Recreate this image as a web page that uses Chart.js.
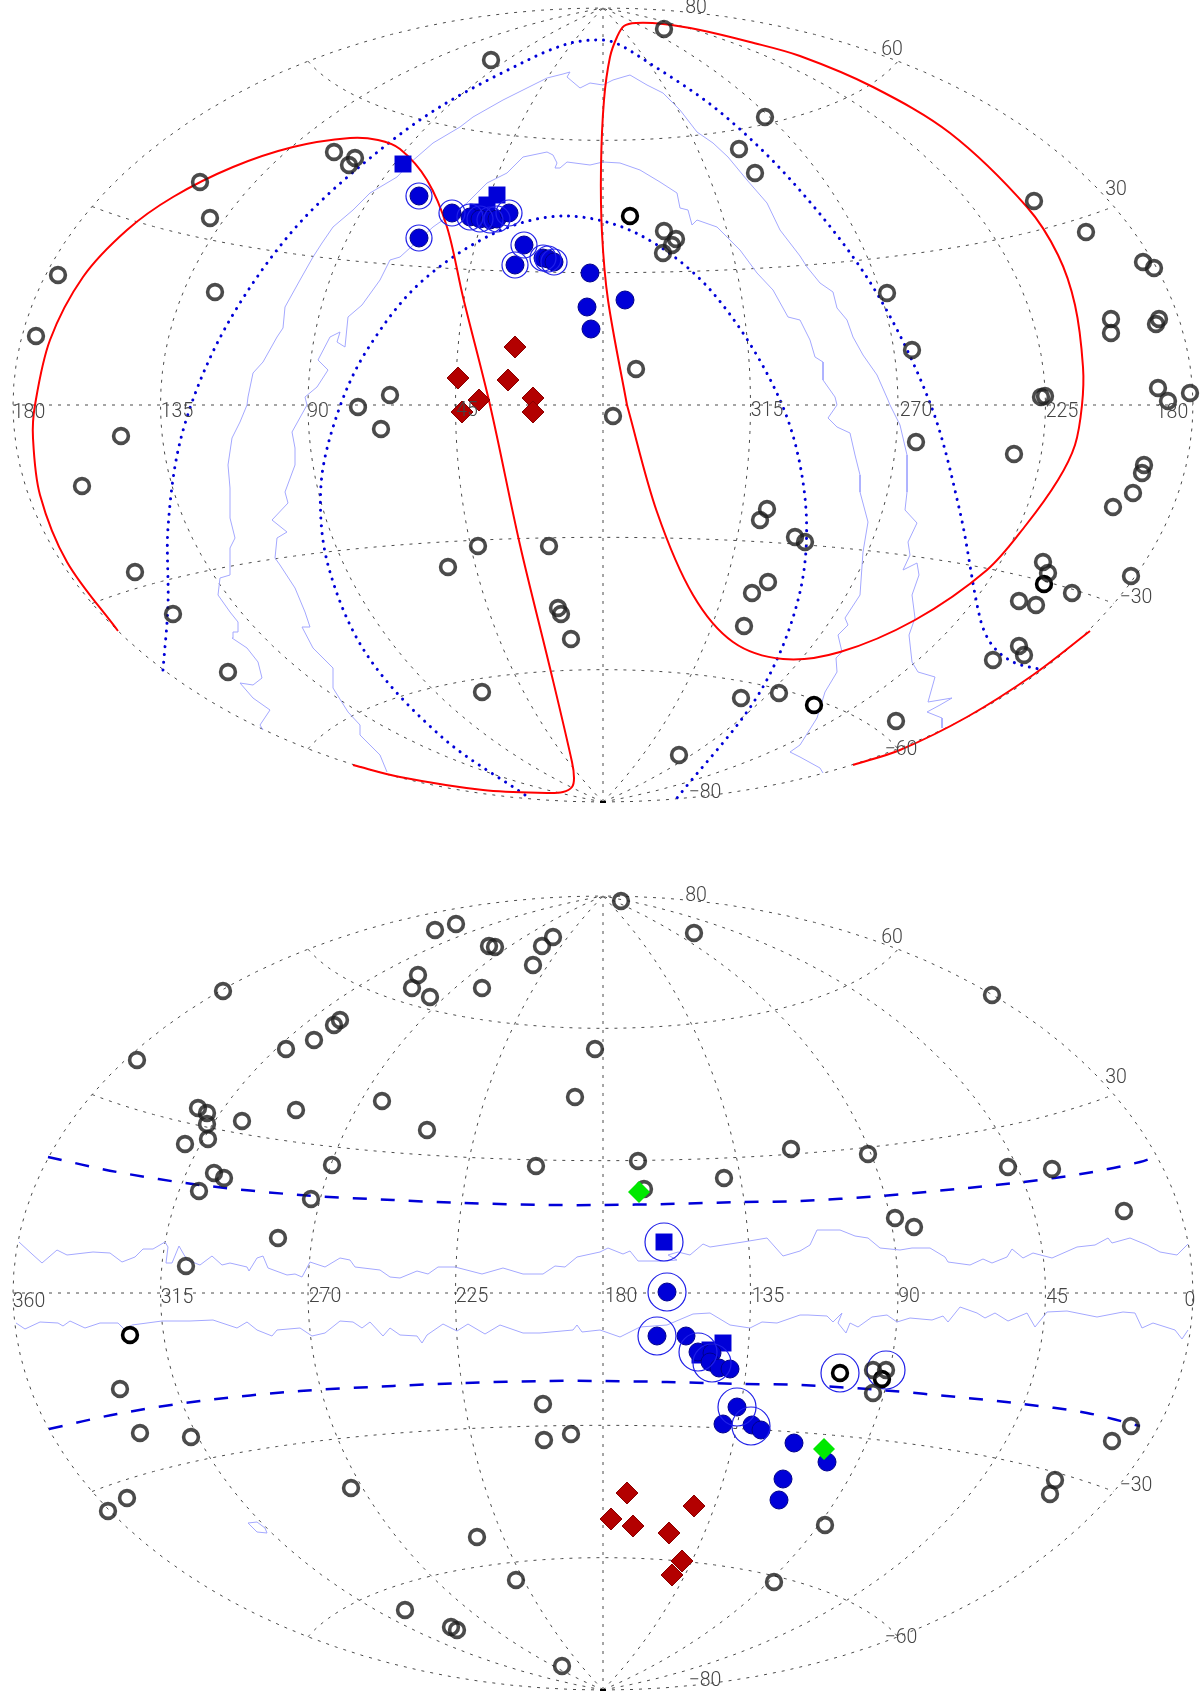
<!DOCTYPE html>
<html>
<head>
<meta charset="utf-8">
<script src="https://cdn.jsdelivr.net/npm/chart.js@4"></script>
<style>
  html, body { margin: 0; padding: 0; background: #fff; }
  canvas { display: block; }
</style>
</head>
<body>
<canvas id="skyTop" width="1200" height="850"></canvas>
<canvas id="skyBottom" width="1200" height="849"></canvas>
<script>
// all positions are [x, y] in the map plane, origin at lon 0 / lat 0
const HALF_W = 590, HALF_H = 397;

const meridians = [-180, -135, -90, -45, 0, 45, 90, 135, 180];
const parallels = [-60, -30, 0, 30, 60];

const latLabels = [['80',93,397],['60',289,355],['30',513,215],['\u221230',533,-193],['\u221260',298,-345],['\u221280',102,-388]];
const topLonLabels = [['180',-574,-8],['135',-426,-7],['90',-285,-7],['45',-136,-6],['315',164,-6],['270',313,-6],['225',459,-7],['180',569,-8]];
const bottomLonLabels = [['360',-574,-9],['315',-426,-5],['270',-278,-4],['225',-131,-4],['180',18,-4],['135',165,-4],['90',306,-4],['45',454,-5],['0',587,-8]];

// top panel
const topOpen = [[-269,253],[-248,247],[-254,240],[-403,223],[-393,187],[-388,113],[-545,130],[-567,69],[-213,10],[-245,-2],[-112,345],[61,376],[162,288],[136,256],[152,232],[61,174],[73,166],[60,152],[69,160],[33,36],[431,204],[483,173],[540,143],[551,137],[508,86],[508,72],[556,86],[553,81],[284,112],[309,55],[555,17],[565,4],[587,12],[438,8],[442,9],[-482,-31],[-521,-81],[-468,-167],[-430,-209],[-375,-267],[-222,-24],[10,-11],[-125,-141],[-54,-141],[-155,-162],[-45,-203],[-42,-209],[-32,-234],[-121,-287],[164,-104],[157,-115],[192,-132],[202,-137],[149,-188],[165,-177],[141,-221],[138,-293],[176,-288],[76,-350],[313,-37],[411,-49],[541,-60],[539,-68],[530,-88],[510,-102],[440,-157],[445,-168],[469,-188],[528,-171],[416,-196],[433,-200],[416,-241],[421,-250],[390,-255],[293,-316]];
const topBlack = [[27,189],[441,-179],[211,-300]];
const topRinged = [[-184,209],[-184,167],[-151,192],[-133,188],[-123,186],[-113,185],[-106,186],[-94,192],[-79,160],[-88,140],[-60,147],[-55,146],[-49,143]];
const topPlain = [[-13,132],[-16,98],[-12,76],[22,105]];
const topSquares = [[-200,241],[-106,210],[-116,200],[-125,193]];
const topDiamonds = [[-88,58],[-145,27],[-95,25],[-124,5],[-70,7],[-141,-7],[-70,-7]];

const redA = [[-485,-226],[-536,-157],[-563,-90],[-570,-33],[-568,0],[-553,65],[-520,128],[-476,175],[-430,208],[-370,238],[-310,258],[-253,267],[-225,265],[-203,256],[-176,225],[-156,178],[-140,108],[-113,0],[-83,-140],[-53,-263],[-31,-357],[-29,-373],[-31,-382],[-40,-387],[-56,-388],[-120,-385],[-203,-372],[-250,-360]];
const redB = [[24,0],[5,105],[-1,172],[-2,238],[1,305],[7,348],[14,368],[21,379],[33,382],[60,381],[97,375],[147,363],[197,349],[270,318],[347,272],[424,198],[455,150],[472,100],[480,38],[479,0],[472,-40],[455,-75],[423,-120],[384,-165],[312,-215],[237,-247],[180,-254],[130,-237],[90,-190],[54,-107],[24,0]];
const redC = [[487,-226],[430,-270],[364,-312],[297,-345],[250,-360]];

const dottedOuter = [[-440,-265],[-435,-200],[-435,-123],[-423,-37],[-393,47],[-350,122],[-296,190],[-223,255],[-160,300],[-73,346],[-36,361],[-10,365],[10,363],[37,348],[117,293],[194,218],[270,118],[327,2],[357,-107],[377,-213],[389,-240],[410,-257],[440,-265]];
const dottedInner = [[-78,-390],[-160,-333],[-236,-250],[-275,-160],[-282,-80],[-265,-7],[-236,55],[-183,122],[-106,173],[-36,189],[37,170],[110,112],[177,5],[202,-93],[197,-187],[157,-287],[74,-393]];

const contourOuter = [[-340,-325],[-343,-320],[-333,-305],[-350,-293],[-363,-278],[-350,-280],[-341,-273],[-345,-257],[-356,-243],[-371,-233],[-370,-227],[-365,-227],[-365,-217],[-373,-207],[-385,-190],[-383,-173],[-373,-170],[-373,-143],[-368,-133],[-373,-113],[-373,-83],[-375,-60],[-371,-33],[-363,-17],[-356,0],[-355,8],[-350,32],[-340,43],[-326,68],[-320,77],[-318,98],[-303,125],[-290,148],[-281,162],[-270,178],[-250,195],[-233,212],[-206,228],[-193,242],[-170,262],[-143,278],[-130,288],[-100,305],[-76,317],[-56,327],[-40,331],[-33,333],[-36,328],[-23,317],[-13,322],[0,320],[10,325],[20,328],[27,330],[44,320],[60,312],[77,295],[94,273],[110,262],[125,248],[144,225],[164,202],[177,175],[197,149],[204,138],[217,122],[230,113],[234,97],[244,85],[250,68],[260,50],[274,30],[285,5],[287,0],[297,-20],[304,-50],[304,-87],[302,-105],[314,-118],[305,-137],[307,-150],[300,-165],[314,-158],[316,-170],[309,-190],[312,-213],[306,-230],[309,-257],[315,-267],[332,-272],[325,-297],[349,-293],[337,-300],[324,-307],[339,-313],[339,-323]];
const contourInner = [[-216,-367],[-223,-350],[-243,-330],[-243,-320],[-255,-307],[-270,-283],[-270,-263],[-290,-243],[-301,-222],[-293,-222],[-298,-207],[-308,-183],[-323,-160],[-328,-153],[-326,-133],[-316,-127],[-331,-115],[-315,-98],[-318,-87],[-308,-60],[-308,-43],[-311,-27],[-296,0],[-298,8],[-286,18],[-275,35],[-285,45],[-273,68],[-263,73],[-266,63],[-258,58],[-255,88],[-241,100],[-223,125],[-213,145],[-203,148],[-170,178],[-136,202],[-116,222],[-96,232],[-80,248],[-56,253],[-50,250],[-46,242],[-48,237],[-43,237],[-36,243],[-13,240],[0,243],[17,242],[37,235],[57,223],[74,212],[77,197],[85,195],[89,180],[94,185],[114,178],[137,155],[154,132],[170,115],[185,88],[197,85],[207,65],[212,48],[220,43],[220,25],[232,8],[234,0],[225,-13],[234,-22],[247,-28],[252,-50],[257,-70],[257,-87],[265,-117],[260,-147],[257,-190],[242,-213],[245,-220],[235,-230],[239,-247],[233,-253],[234,-267],[222,-287],[214,-313],[197,-340],[187,-347],[197,-352],[217,-363],[220,-368]];

// bottom panel
const botOpen = [[18,392],[91,360],[-168,363],[-147,369],[-114,347],[-108,346],[-50,356],[-61,347],[-70,328],[-185,318],[-191,305],[-173,296],[-121,305],[-380,302],[389,298],[-466,233],[-317,244],[-289,253],[-269,268],[-263,273],[-8,244],[-28,196],[-221,192],[-307,183],[-176,163],[-405,185],[-396,180],[-396,169],[-361,172],[-395,154],[-418,149],[-389,120],[-379,115],[-404,102],[-271,128],[-292,94],[-67,127],[121,115],[188,144],[265,139],[405,126],[449,124],[41,104],[292,75],[311,66],[521,82],[-325,55],[-417,27],[35,132],[-483,-96],[-463,-140],[-412,-144],[-60,-111],[-59,-147],[-32,-141],[270,-100],[270,-77],[283,-77],[528,-133],[509,-148],[452,-187],[447,-201],[222,-232],[171,-289],[-126,-244],[-252,-195],[-476,-205],[-495,-218],[-87,-287],[-198,-317],[-152,-334],[-146,-337],[-41,-373]];
const botBlack = [[-473,-42],[237,-80],[279,-86]];
const botRings = [[283,-77],[237,-80],[61,51],[64,1],[54,-43],[95,-59],[109,-70],[134,-114],[148,-133]];
const botFilled = [[64,1],[54,-43],[83,-43],[95,-59],[109,-60],[107,-69],[116,-75],[127,-76],[134,-114],[120,-131],[149,-132],[158,-137],[191,-150],[224,-169],[180,-186],[176,-207]];
const botSquares = [[61,51],[120,-50],[107,-57],[97,-62]];
const botGreen = [[36,101],[221,-156]];
const botDiamonds = [[24,-200],[8,-226],[30,-233],[91,-213],[66,-240],[79,-268],[69,-282]];

const dashedUpper = [[-555,136],[-486,121],[-403,108],[-303,98],[-210,93],[-140,90],[-53,88],[0,88],[64,89],[140,91],[197,92],[277,97],[364,105],[420,111],[484,120],[537,131],[552,136]];
const dashedLower = [[-554,-136],[-486,-121],[-403,-108],[-303,-98],[-210,-93],[-140,-90],[-53,-88],[0,-88],[64,-89],[140,-91],[197,-92],[277,-97],[364,-105],[420,-111],[484,-120],[537,-133]];

const bandUpper = [[-584,51],[-571,39],[-561,30],[-546,43],[-536,38],[-510,41],[-493,40],[-481,31],[-468,36],[-460,44],[-450,44],[-438,51],[-435,46],[-437,30],[-431,30],[-424,47],[-416,33],[-403,28],[-391,37],[-381,28],[-373,30],[-356,26],[-354,22],[-346,35],[-340,37],[-335,25],[-316,18],[-308,19],[-301,16],[-293,31],[-278,26],[-263,35],[-253,33],[-248,26],[-223,23],[-213,16],[-203,15],[-186,22],[-175,19],[-165,26],[-148,26],[-121,19],[-100,25],[-80,19],[-60,19],[-48,27],[-38,26],[-26,36],[-3,41],[5,45],[20,39],[27,42],[35,32],[60,32],[74,33],[65,38],[75,41],[87,38],[100,49],[107,46],[140,51],[164,55],[180,37],[197,42],[207,48],[214,63],[237,63],[252,57],[265,55],[277,45],[297,43],[309,45],[327,45],[342,36],[345,31],[367,28],[380,34],[389,30],[404,36],[409,44],[420,35],[430,40],[449,35],[474,46],[492,48],[505,55],[509,50],[527,55],[544,48],[557,41],[574,38],[585,49]];
const bandLower = [[-587,-30],[-578,-36],[-563,-29],[-545,-30],[-540,-33],[-533,-28],[-518,-35],[-503,-30],[-485,-30],[-478,-37],[-471,-32],[-441,-28],[-413,-28],[-390,-27],[-366,-35],[-356,-29],[-346,-37],[-331,-43],[-326,-37],[-303,-35],[-291,-43],[-278,-40],[-263,-28],[-250,-29],[-241,-35],[-233,-29],[-220,-43],[-213,-35],[-203,-42],[-186,-43],[-181,-50],[-176,-42],[-160,-31],[-146,-38],[-135,-31],[-118,-41],[-103,-32],[-80,-40],[-63,-40],[-30,-37],[-26,-32],[-21,-39],[-3,-37],[17,-44],[37,-34],[64,-32],[90,-21],[107,-20],[127,-32],[147,-35],[159,-29],[174,-30],[197,-22],[205,-22],[224,-23],[230,-29],[239,-20],[235,-30],[243,-40],[247,-30],[255,-34],[269,-24],[284,-22],[294,-29],[307,-25],[329,-27],[340,-23],[345,-29],[357,-14],[374,-20],[382,-25],[392,-20],[405,-28],[424,-20],[432,-34],[444,-19],[464,-18],[494,-24],[520,-19],[532,-20],[539,-35],[550,-30],[572,-37],[579,-46],[585,-37]];
const bandIslet = [[-355,-230],[-346,-229],[-338,-235],[-336,-240],[-346,-239],[-355,-230]];

const poleMark = [[0,-397]];

// Aitoff projection, only used for the graticule
function aitoff(lon, lat) {
  const l = lon * Math.PI / 360, p = lat * Math.PI / 180;
  const a = Math.acos(Math.cos(p) * Math.cos(l));
  const s = a < 1e-6 ? 1 : Math.sin(a) / a;
  return { x: HALF_W * (2 * Math.cos(p) * Math.sin(l) / s) / Math.PI, y: HALF_H * (Math.sin(p) / s) / (Math.PI / 2) };
}

function graticule() {
  const sets = [];
  const grid = { showLine: true, pointRadius: 0, borderColor: '#4a4a4a', borderWidth: 1, borderDash: [3, 6], order: 20 };
  meridians.forEach(lon => {
    const data = [];
    for (let lat = -90; lat <= 90; lat += 3) data.push(aitoff(lon, lat));
    sets.push({ ...grid, data });
  });
  parallels.forEach(lat => {
    const data = [];
    for (let lon = -180; lon <= 180; lon += 3) data.push(aitoff(lon, lat));
    sets.push({ ...grid, data });
  });
  return sets;
}

const pts = arr => arr.map(([x, y]) => ({ x, y }));

function line(arr, color, width, order, extra) {
  return { showLine: true, data: pts(arr), borderColor: color, borderWidth: width, pointRadius: 0, order, ...extra };
}
function marks(arr, style, radius, fill, stroke, width, order) {
  return { showLine: false, data: pts(arr), pointStyle: style, pointRadius: radius, backgroundColor: fill, borderColor: stroke, borderWidth: width, order };
}

const BLUE = '#0000d8', EDGE = '#00008c', RING = '#2020e8', GREY = 'rgba(30,30,30,0.8)', CONTOUR = '#a4a8ff';
const SMOOTH = 0.33;
const dotted = { borderDash: [0.1, 7.7], borderCapStyle: 'round', tension: SMOOTH };

const labelPlugin = {
  id: 'mapLabels',
  afterDatasetsDraw(chart, args, opts) {
    const c = chart.ctx;
    c.save();
    c.font = '300 19.5px Roboto, "Liberation Sans"';
    c.fillStyle = '#444';
    c.textAlign = 'center';
    c.textBaseline = 'middle';
    opts.items.forEach(([t, x, y]) => {
      c.fillText(t, chart.scales.x.getPixelForValue(x), chart.scales.y.getPixelForValue(y));
    });
    c.restore();
  }
};

function panel(id, yMin, yMax, datasets, labels) {
  new Chart(document.getElementById(id), {
    type: 'scatter',
    data: { datasets: datasets.concat(graticule()) },
    options: {
      responsive: false,
      animation: false,
      events: [],
      layout: { padding: 0, autoPadding: false },
      scales: {
        x: { type: 'linear', min: -603, max: 597, display: false },
        y: { type: 'linear', min: yMin, max: yMax, display: false }
      },
      plugins: { legend: { display: false }, tooltip: { enabled: false }, mapLabels: { items: labels } }
    },
    plugins: [labelPlugin]
  });
}

panel('skyTop', -445, 405, [
  marks(topOpen, 'circle', 7.4, 'transparent', GREY, 3.6, 1),
  marks(topBlack, 'circle', 7.4, 'transparent', '#000', 3.6, 1),
  marks(topRinged, 'circle', 13, 'transparent', RING, 1.2, 2),
  marks(topRinged, 'circle', 9, BLUE, EDGE, 1, 3),
  marks(topPlain, 'circle', 9, BLUE, EDGE, 1, 3),
  marks(topSquares, 'rect', 12, BLUE, BLUE, 0, 3),
  marks(topDiamonds, 'rectRot', 11, '#b30000', '#8a0000', 1, 3),
  marks(poleMark, 'line', 3, '#000', '#000', 2, 4),
  line(redA, '#ff0000', 2, 5, { tension: SMOOTH }),
  line(redB, '#ff0000', 2, 5, { tension: SMOOTH }),
  line(redC, '#ff0000', 2, 5, { tension: SMOOTH }),
  line(dottedOuter, BLUE, 3, 6, dotted),
  line(dottedInner, BLUE, 3, 6, dotted),
  line(contourOuter, CONTOUR, 1, 7),
  line(contourInner, CONTOUR, 1, 7)
], latLabels.concat(topLonLabels));

panel('skyBottom', -406, 443, [
  marks(botGreen, 'rectRot', 11, '#00e800', '#00e800', 0, 0),
  marks(botOpen, 'circle', 7.4, 'transparent', GREY, 3.6, 1),
  marks(botBlack, 'circle', 7.4, 'transparent', '#000', 3.6, 1),
  marks(botRings, 'circle', 19, 'transparent', RING, 1.2, 2),
  marks(botFilled, 'circle', 9, BLUE, EDGE, 1, 3),
  marks(botSquares, 'rect', 12, BLUE, BLUE, 0, 3),
  marks(botDiamonds, 'rectRot', 11, '#b30000', '#8a0000', 1, 3),
  marks(poleMark, 'line', 3, '#000', '#000', 2, 4),
  line(dashedUpper, BLUE, 2.5, 6, { borderDash: [14, 14], tension: SMOOTH }),
  line(dashedLower, BLUE, 2.5, 6, { borderDash: [14, 14], tension: SMOOTH }),
  line(bandUpper, CONTOUR, 1, 7),
  line(bandLower, CONTOUR, 1, 7),
  line(bandIslet, CONTOUR, 1, 7)
], latLabels.concat(bottomLonLabels));
</script>
</body>
</html>
